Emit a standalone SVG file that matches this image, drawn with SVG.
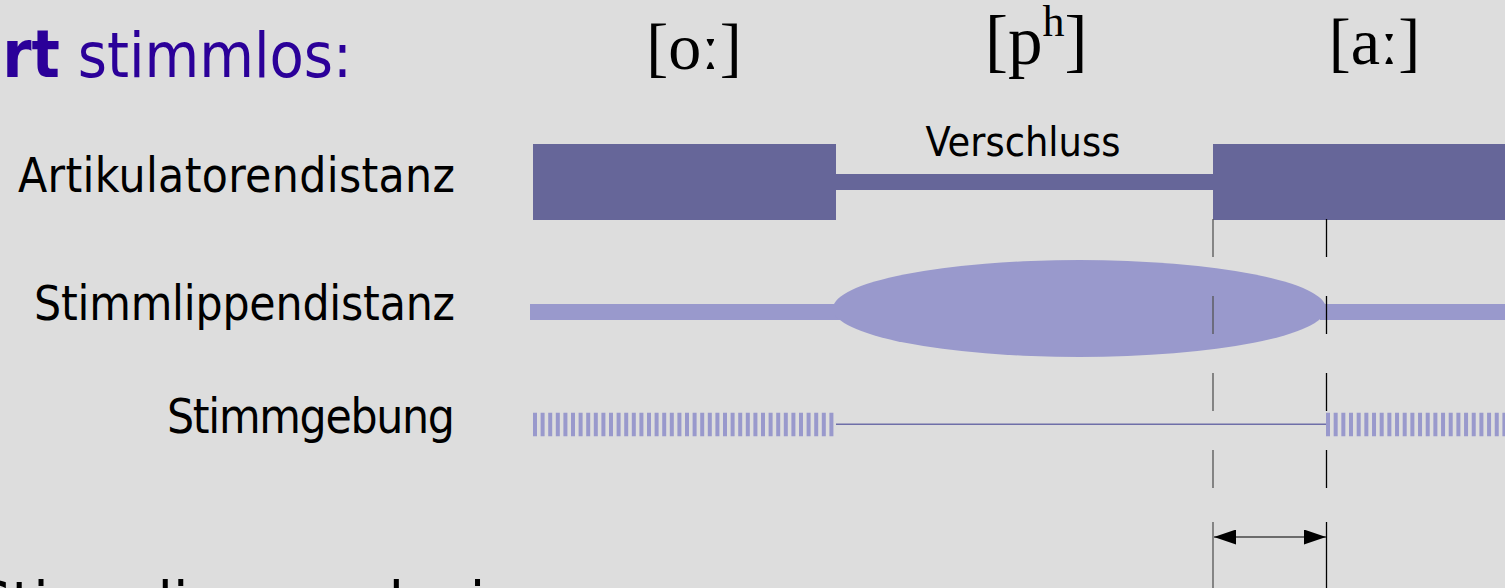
<svg xmlns="http://www.w3.org/2000/svg" width="1505" height="588" viewBox="0 0 1505 588">
<style>
.lbl{font-family:"DejaVu Sans Condensed","DejaVu Sans",sans-serif;font-stretch:condensed;fill:#000;text-anchor:end}
.ipa{font-family:"Liberation Serif","DejaVu Serif",serif;fill:#000}
.dark{fill:#666699}
.light{fill:#9999CC}
.dash{stroke-width:1.3;stroke-dasharray:38 39}
</style>
<defs>
<marker id="ah" viewBox="0 0 22 15" refX="22" refY="7.5" markerWidth="22" markerHeight="15" markerUnits="userSpaceOnUse" orient="auto-start-reverse">
<path d="M0,0 L22,7.5 L0,15 Z" fill="#000"/>
</marker>
</defs>
<rect width="1505" height="588" fill="#DDDDDD"/>
<g id="title">
<text x="352" y="77" font-family="DejaVu Sans Condensed, DejaVu Sans, sans-serif" font-stretch="condensed" font-size="62.4" fill="#2B0099" text-anchor="end"><tspan font-weight="bold" font-size="66">rt</tspan> stimmlos:</text>
</g>
<g id="phones">
<text class="ipa" x="694" y="69" font-size="66" text-anchor="middle">[oː]</text>
<text class="ipa" x="985" y="64" font-size="69">[p<tspan font-size="44" dy="-28">h</tspan><tspan dy="28">]</tspan></text>
<text class="ipa" x="1374.5" y="64" font-size="66" text-anchor="middle">[aː]</text>
</g>
<g id="labels">
<text class="lbl" x="455" y="192" font-size="47.5" textLength="437">Artikulatorendistanz</text>
<text class="lbl" x="455" y="320" font-size="47.5" textLength="421">Stimmlippendistanz</text>
<text class="lbl" x="455" y="433" font-size="47.5" textLength="288">Stimmgebung</text>
</g>
<g id="artikulatorendistanz">
<rect class="dark" x="533" y="144" width="303" height="76"/>
<rect class="dark" x="836" y="174" width="377" height="16"/>
<rect class="dark" x="1213" y="144" width="292" height="76"/>
<text x="1023" y="156" font-family="DejaVu Sans Condensed, DejaVu Sans, sans-serif" font-stretch="condensed" font-size="41" text-anchor="middle" fill="#000">Verschluss</text>
</g>
<g id="stimmlippendistanz">
<rect class="light" x="530" y="304" width="310" height="16"/>
<rect class="light" x="1320" y="304" width="185" height="16"/>
<ellipse class="light" cx="1079.5" cy="308.5" rx="246.5" ry="48.5"/>
</g>
<g id="stimmgebung">
<line x1="533" y1="424.5" x2="836" y2="424.5" stroke="#9999CC" stroke-width="23.5" stroke-dasharray="4 3.6"/>
<line x1="836" y1="424.3" x2="1326" y2="424.3" stroke="#6E6EA8" stroke-width="1.4"/>
<line x1="1326" y1="424.5" x2="1505" y2="424.5" stroke="#9999CC" stroke-width="23.5" stroke-dasharray="4 3.67"/>
</g>
<g id="connectors">
<line class="dash" x1="1213" y1="219" x2="1213" y2="522" stroke="#555"/>
<line x1="1213" y1="522" x2="1213" y2="588" stroke="#555" stroke-width="1.3"/>
<line class="dash" x1="1326.5" y1="219" x2="1326.5" y2="522" stroke="#000"/>
<line x1="1326.5" y1="522" x2="1326.5" y2="588" stroke="#000" stroke-width="1.3"/>
<line x1="1214" y1="537" x2="1326" y2="537" stroke="#444" stroke-width="1.3" marker-start="url(#ah)" marker-end="url(#ah)"/>
</g>
<g id="bottom-text">
<text x="-24" y="626" font-family="DejaVu Sans Condensed, DejaVu Sans, sans-serif" font-stretch="condensed" font-size="62" fill="#000">Stimmlippenschwingung</text>
</g>
</svg>
